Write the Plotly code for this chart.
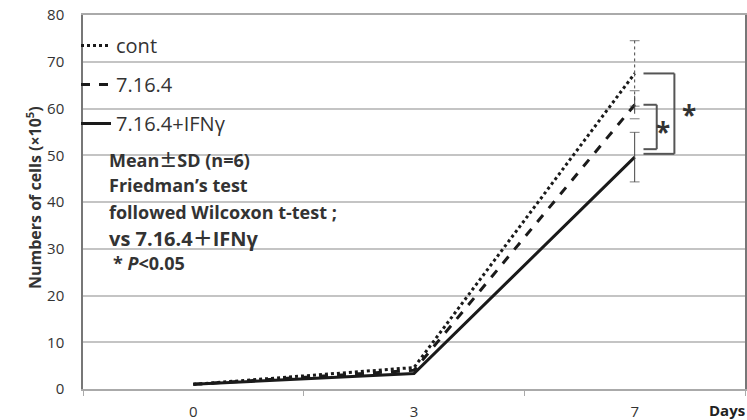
import plotly.graph_objects as go

days = ["0", "3", "7"]
cont = [1.0, 4.6, 67.5]
cont_sd = [0, 0, 7.0]
d7164 = [1.0, 4.0, 60.8]
d7164_sd = [0, 0, 3.0]
ifn = [1.0, 3.3, 49.6]
ifn_sd = [0, 0, 5.3]

names = ["cont", "7.16.4", "7.16.4+IFNγ"]
dashes = ["dot", "dash", "solid"]
series = [cont, d7164, ifn]
sds = [cont_sd, d7164_sd, ifn_sd]

FONT = "'Open Sans', 'Noto Sans CJK JP', sans-serif"
CJK = "Noto Sans CJK JP"
LC = "#1a1a1a"

# plot area pixel geometry
L, R, T, B = 83, 745, 15, 389
W, H = 747, 420

def py(p):
    return (B - p) / (B - T)

def px(p):
    return (p - L) / (R - L)

fig = go.Figure()
for i, (nm, ds, ys) in enumerate(zip(names, dashes, series)):
    fig.add_trace(go.Scatter(
        x=days, y=ys, mode="lines", name=nm, legendgroup=nm,
        line=dict(color=LC, width=3, dash=ds),
    ))
# error bars at last point, drawn as thin segments with caps
for nm, ds, ys, sd in zip(names, dashes, series, sds):
    m, s = ys[-1], sd[-1]
    for sign in (1, -1):
        fig.add_trace(go.Scatter(
            x=[days[-1], days[-1]], y=[m, m + sign * s], mode="lines+markers",
            line=dict(color="#444", width=1, dash=ds),
            marker=dict(symbol="line-ew-open", size=[0, 7], color="#444",
                        line=dict(width=1, color="#444")),
            showlegend=False, hoverinfo="skip",
        ))

# significance brackets (category index coordinates)
bc = "#555"
x0b, x1b, x1s = 2.04, 2.18, 2.10
shapes = [
    dict(type="line", x0=x0b, x1=x1b, y0=cont[-1], y1=cont[-1]),
    dict(type="line", x0=x1b, x1=x1b, y0=cont[-1], y1=50.3),
    dict(type="line", x0=x0b, x1=x1b, y0=50.3, y1=50.3),
    dict(type="line", x0=x0b, x1=x1s, y0=d7164[-1], y1=d7164[-1]),
    dict(type="line", x0=x1s, x1=x1s, y0=d7164[-1], y1=51.3),
    dict(type="line", x0=x0b, x1=x1s, y0=51.3, y1=51.3),
]
for s in shapes:
    s.update(xref="x", yref="y", line=dict(color=bc, width=2))

ann = []
ann.append(dict(x=2.245, y=58.6, xref="x", yref="y", text="<b>*</b>", showarrow=False,
                font=dict(size=26, color="#333", family=FONT)))
ann.append(dict(x=2.13, y=55.0, xref="x", yref="y", text="<b>*</b>", showarrow=False,
                font=dict(size=26, color="#333", family=FONT)))

pm = f"<span style='font-family:{CJK}'>±</span>"
plus = f"<span style='font-family:{CJK}'>＋</span>"
note_lines = [
    (f"<b>Mean{pm}SD (n=6)</b>", 159, 18, 107),
    ("<b>Friedman’s test</b>", 185, 18, 107),
    ("<b>followed Wilcoxon t-test ;</b>", 212, 18, 107),
    (f"<b>vs 7.16.4{plus}IFNγ</b>", 238, 20, 107),
    ("<b>* <i>P</i><0.05</b>", 263, 18, 111),
]
for t, yy, fs, xx in note_lines:
    ann.append(dict(x=px(xx), y=py(yy), xref="paper", yref="paper", text=t, showarrow=False,
                    xanchor="left", yanchor="middle", font=dict(size=fs, color="#333", family=FONT)))

ann.append(dict(x=px(20), y=py(198), xref="paper", yref="paper",
                text="<b>Numbers of cells (×10<sup>5</sup>)</b>", textangle=-90, showarrow=False,
                font=dict(size=16, color="#333", family=FONT)))
ann.append(dict(x=1.003, y=py(410), xref="paper", yref="paper", text="<b>Days</b>", showarrow=False,
                xanchor="right", yanchor="middle", font=dict(size=15, color="#222", family=FONT)))

fig.update_layout(
    width=W, height=H,
    margin=dict(l=L, r=W - R, t=T, b=H - B),
    paper_bgcolor="white", plot_bgcolor="white",
    font=dict(family=FONT, color="#333"),
    shapes=shapes, annotations=ann,
    showlegend=True,
    legend=dict(x=px(76), y=py(26), xanchor="left", yanchor="top",
                font=dict(size=20, color="#333", family=FONT),
                bgcolor="rgba(0,0,0,0)", tracegroupgap=10, itemwidth=30),
    xaxis=dict(type="category", range=[-0.5, 2.5], showgrid=False, automargin=False,
               showline=True, linecolor="#aaa", linewidth=1.5, mirror=True,
               ticks="outside", tickson="boundaries", ticklen=5, tickcolor="#aaa",
               tickfont=dict(size=15, color="#333"), ticklabelstandoff=8),
    yaxis=dict(range=[0, 80], dtick=10, showgrid=True, gridcolor="#c4c4c4", gridwidth=1.5,
               showline=True, linecolor="#777", linewidth=1.5, mirror=True, automargin=False,
               ticks="", tickfont=dict(size=15, color="#333"), ticklabelstandoff=14,
               zeroline=False),
)

fig.write_html("out.html")
